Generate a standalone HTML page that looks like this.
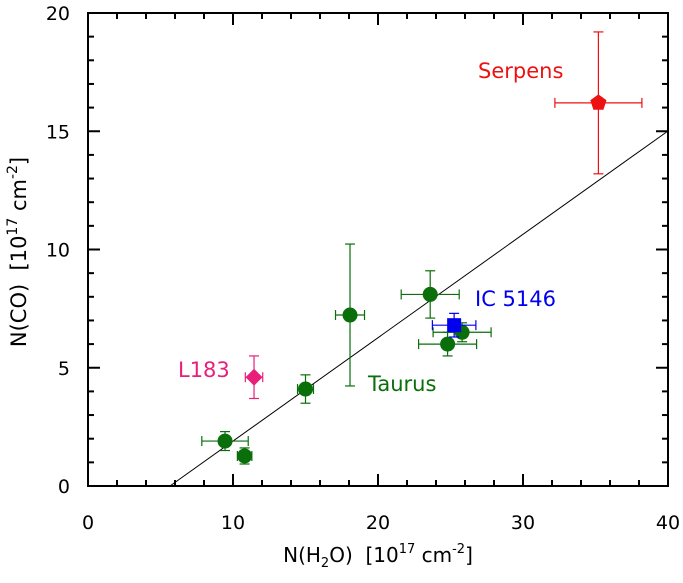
<!DOCTYPE html>
<html><head><meta charset="utf-8">
<style>
html,body{margin:0;padding:0;background:#fff;}
svg{display:block;font-family:"DejaVu Sans","Liberation Sans",sans-serif;}
</style></head>
<body>
<svg id="chart" width="683" height="583" viewBox="0 0 683 583" xmlns="http://www.w3.org/2000/svg">
<g id="frame"></g>
<g id="marks"></g>
<text x="378" y="562" font-size="20" text-anchor="middle" style="white-space:pre">N(H<tspan font-size="13" dy="5">2</tspan><tspan dy="-5">O)  [10</tspan><tspan font-size="13" dy="-9">17</tspan><tspan dy="9"> cm</tspan><tspan font-size="13" dy="-9">-2</tspan><tspan dy="9">]</tspan></text>
<text transform="translate(26,252) rotate(-90)" font-size="21" text-anchor="middle" style="white-space:pre">N(CO)  [10<tspan font-size="14" dy="-9">17</tspan><tspan dy="9"> cm</tspan><tspan font-size="14" dy="-9">-2</tspan><tspan dy="9">]</tspan></text>
</svg>
<script>
const xTicks=[0,10,20,30,40];
const yTicks=[0,5,10,15,20];
const taurusX=[9.45,10.8,15.0,18.07,23.6,24.8,25.8];
const taurusY=[1.9,1.27,4.1,7.23,8.1,6.0,6.5];
const taurusXErr=[1.6,0.5,0.55,1.0,2.0,2.0,2.0];
const taurusYErr=[0.4,0.34,0.6,3.0,1.0,0.5,0.4];
const icX=[25.25], icY=[6.8], icXErr=[1.5], icYErr=[0.5];
const l183X=[11.45], l183Y=[4.6], l183XErr=[0.6], l183YErr=[0.9];
const serpX=[35.2], serpY=[16.2], serpXErr=[3.0], serpYErr=[3.0];
const fitSlope=0.437, fitX0=5.65;

const X0=88,X1=668,Y0=486,Y1=13;
const sx=v=>X0+(v-0)/40*(X1-X0);
const sy=v=>Y0-(v-0)/20*(Y0-Y1);
const NS="http://www.w3.org/2000/svg";
const frame=document.getElementById('frame');
const marks=document.getElementById('marks');
function mk(tag,attrs,parent){const e=document.createElementNS(NS,tag);for(const k in attrs)e.setAttribute(k,attrs[k]);parent.appendChild(e);return e;}

const box=mk('rect',{x:X0,y:Y1,width:X1-X0,height:Y0-Y1,fill:'none',stroke:'#000','stroke-width':2},frame);


for(let v=0;v<=40;v+=2){
  const L=(v%10===0)?12:6;const x=sx(v);
  mk('line',{x1:x,y1:Y0,x2:x,y2:Y0-L,stroke:'#000','stroke-width':2},frame);
  mk('line',{x1:x,y1:Y1,x2:x,y2:Y1+L,stroke:'#000','stroke-width':2},frame);
}
for(let v=0;v<=20;v+=1){
  const L=(v%5===0)?12:6;const y=sy(v);
  mk('line',{x1:X0,y1:y,x2:X0+L,y2:y,stroke:'#000','stroke-width':2},frame);
  mk('line',{x1:X1,y1:y,x2:X1-L,y2:y,stroke:'#000','stroke-width':2},frame);
}
xTicks.forEach(v=>{
  const t=mk('text',{x:sx(v),y:529,'font-size':19,'text-anchor':'middle'},frame);
  t.textContent=v;
  
  
});
yTicks.forEach(v=>{
  const t=mk('text',{x:70,y:sy(v)+7,'font-size':19,'text-anchor':'end'},frame);
  t.textContent=v;
  
  
});
const fl=mk('line',{x1:sx(fitX0),y1:sy(0),x2:sx(40),y2:sy(fitSlope*(40-fitX0)),stroke:'#000','stroke-width':1},marks);



function err(x,y,xe,ye,col){
  const g=mk('g',{stroke:col,'stroke-width':1.2},marks);
  
  
  const a=sx(x-xe),b=sx(x+xe),c=sy(y-ye),d=sy(y+ye),px=sx(x),py=sy(y);
  mk('line',{x1:a,y1:py,x2:b,y2:py},g);
  mk('line',{x1:a,y1:py-5,x2:a,y2:py+5},g);
  mk('line',{x1:b,y1:py-5,x2:b,y2:py+5},g);
  mk('line',{x1:px,y1:c,x2:px,y2:d},g);
  mk('line',{x1:px-5,y1:c,x2:px+5,y2:c},g);
  mk('line',{x1:px-5,y1:d,x2:px+5,y2:d},g);
}
const green='#0a6e0a';
taurusX.forEach((x,i)=>{
  err(x,taurusY[i],taurusXErr[i],taurusYErr[i],green);
  const c=mk('circle',{cx:sx(x),cy:sy(taurusY[i]),r:7.5,fill:green},marks);
  
  
});
icX.forEach((x,i)=>{
  err(x,icY[i],icXErr[i],icYErr[i],'#0000ee');
  const r=mk('rect',{x:sx(x)-7,y:sy(icY[i])-7,width:14,height:14,fill:'#0000ee'},marks);
  
  
});
l183X.forEach((x,i)=>{
  err(x,l183Y[i],l183XErr[i],l183YErr[i],'#e8207a');
  const px=sx(x),py=sy(l183Y[i]);
  const p=mk('polygon',{points:`${px},${py-8.5} ${px+8.5},${py} ${px},${py+8.5} ${px-8.5},${py}`,fill:'#e8207a'},marks);
  
  
});
serpX.forEach((x,i)=>{
  err(x,serpY[i],serpXErr[i],serpYErr[i],'#ee1111');
  const px=sx(x),py=sy(serpY[i]);let pts=[];
  for(let k=0;k<5;k++){const a=-Math.PI/2+k*2*Math.PI/5;pts.push((px+8.5*Math.cos(a)).toFixed(1)+','+(py+8.5*Math.sin(a)).toFixed(1));}
  const p=mk('polygon',{points:pts.join(' '),fill:'#ee1111'},marks);
  
  
});
function lab(txt,x,y,col,name){
  const t=mk('text',{x:x,y:y,'font-size':21,fill:col},marks);
  t.textContent=txt;
  
  
}
lab('Serpens',478,78,'#ee1111','serpens-label');
lab('IC 5146',475,306,'#0000ee','ic5146-label');
lab('Taurus',368,391,green,'taurus-label');
lab('L183',178,377,'#e8207a','l183-label');
</script>
</body></html>
